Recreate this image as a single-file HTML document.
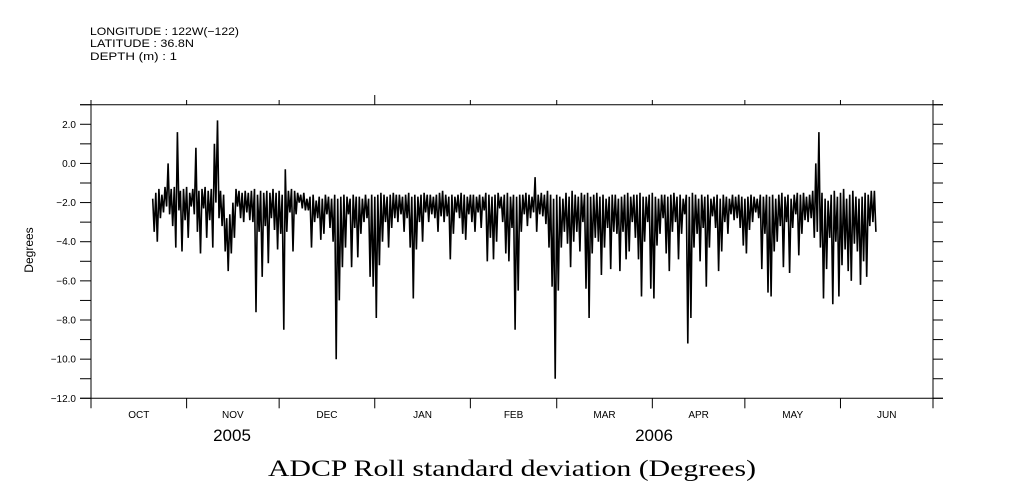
<!DOCTYPE html>
<html><head><meta charset="utf-8"><style>
html,body{margin:0;padding:0;background:#fff;}
svg{display:block;}
text{font-family:"Liberation Sans",sans-serif;fill:#000;}
</style></head><body>
<svg id="chart" width="1009" height="504" viewBox="0 0 1009 504" xmlns="http://www.w3.org/2000/svg">
<g font-size="11">
<text x="90" y="35" textLength="149" lengthAdjust="spacingAndGlyphs">LONGITUDE : 122W(−122)</text>
<text x="90" y="47" textLength="104" lengthAdjust="spacingAndGlyphs">LATITUDE : 36.8N</text>
<text x="90" y="60" textLength="87" lengthAdjust="spacingAndGlyphs">DEPTH (m) : 1</text>
</g>
<g id="axes"></g>
<path id="series" fill="none" stroke="#000" stroke-width="1.6"/>
<text x="33" y="250" font-size="12" text-anchor="middle" transform="rotate(-90 33 250)">Degrees</text>
<text x="232" y="441" font-size="17" text-anchor="middle">2005</text>
<text x="654" y="441" font-size="17" text-anchor="middle">2006</text>
<text x="268" y="476" font-size="23" textLength="488" lengthAdjust="spacingAndGlyphs" style="font-family:'Liberation Serif',serif">ADCP Roll standard deviation (Degrees)</text>
</svg>
<script>
const monthLabels = ["OCT","NOV","DEC","JAN","FEB","MAR","APR","MAY","JUN"];
const monthDays = [31,30,31,31,28,31,30,31,30];
const yTicks = [2,0,-2,-4,-6,-8,-10,-12];
const yTickLabels = ["2.0","0.0","-2.0","-4.0","-6.0","-8.0","-10.0","-12.0"];
const startDay = 20; // Oct 21 2005, days since Oct 1
const highs = [
-1.8,-1.5,-1.3,-1.6,-1.2,0.0,-1.3,-1.2,1.6,-1.4,
-1.3,-1.2,-1.5,-1.3,0.8,-1.4,-1.3,-1.2,-1.4,-1.3,
1.0,2.2,-1.4,-1.6,-2.8,-2.6,-2.0,-1.3,-1.4,-1.5,
-1.4,-1.5,-1.4,-1.3,-1.6,-1.4,-1.5,-1.4,-1.5,-1.3,
-1.5,-1.4,-1.6,-0.3,-1.4,-1.3,-1.4,-1.5,-1.6,-1.5,
-1.8,-1.7,-1.6,-1.9,-1.7,-1.8,-1.6,-1.7,-1.8,-1.6,
-1.8,-1.7,-1.6,-1.7,-1.8,-1.6,-1.7,-1.7,-1.8,-1.6,
-1.8,-1.6,-1.7,-1.6,-1.5,-1.6,-1.7,-1.6,-1.5,-1.6,
-1.6,-1.7,-1.6,-1.5,-1.7,-1.6,-1.7,-1.6,-1.5,-1.6,
-1.6,-1.7,-1.6,-1.5,-1.4,-1.6,-1.7,-1.6,-1.7,-1.6,
-1.5,-1.6,-1.7,-1.6,-1.6,-1.7,-1.6,-1.7,-1.5,-1.6,
-1.7,-1.6,-1.5,-1.7,-1.6,-1.5,-1.7,-1.6,-1.7,-1.6,
-1.6,-1.5,-1.6,-1.7,-0.7,-1.6,-1.5,-1.6,-1.4,-1.6,
-1.8,-1.6,-1.7,-1.8,-1.5,-1.7,-1.4,-1.6,-1.7,-1.5,
-1.6,-1.5,-1.7,-1.6,-1.5,-1.7,-1.6,-1.8,-1.7,-1.6,
-1.6,-1.8,-1.7,-1.6,-1.5,-1.7,-1.6,-1.6,-1.5,-1.7,
-1.7,-1.6,-1.5,-1.7,-1.8,-1.6,-1.6,-1.7,-1.6,-1.5,
-1.7,-1.6,-1.8,-1.6,-1.7,-1.5,-1.6,-1.8,-1.6,-1.7,
-1.6,-1.8,-1.7,-1.6,-1.8,-1.6,-1.7,-1.8,-1.6,-1.7,
-1.6,-1.7,-1.8,-1.7,-1.6,-1.7,-1.8,-1.6,-1.7,-1.6,
-1.7,-1.6,-1.8,-1.6,-1.5,-1.7,-1.6,-1.8,-1.6,-1.5,
-1.6,-1.5,-1.7,-1.6,-1.4,0.0,1.6,-1.5,-1.8,-1.9,
-1.6,-1.4,-1.7,-1.5,-1.3,-1.8,-1.6,-1.4,-1.7,-1.8,
-1.7,-1.5,-1.6,-1.4,-1.4];
const lows = [
-3.5,-4.0,-2.8,-2.5,-2.2,-2.6,-3.2,-4.3,-2.4,-4.5,
-2.9,-3.8,-2.2,-2.6,-3.5,-4.6,-2.3,-3.8,-2.9,-4.3,
-2.0,-2.8,-3.2,-4.5,-5.5,-4.6,-3.8,-2.2,-2.8,-3.0,
-2.5,-2.9,-3.0,-7.6,-3.5,-5.8,-3.2,-5.1,-2.8,-3.4,
-4.4,-3.6,-8.5,-3.5,-2.5,-4.5,-2.6,-2.0,-2.3,-2.4,
-2.4,-4.3,-3.0,-2.8,-3.9,-3.6,-2.6,-3.3,-4.0,-10.0,
-7.0,-5.3,-4.3,-2.6,-5.3,-3.3,-4.8,-3.6,-3.0,-2.8,
-5.8,-6.3,-7.9,-5.2,-4.0,-3.0,-4.3,-3.3,-2.8,-3.0,
-2.6,-3.5,-2.8,-4.3,-6.9,-4.4,-3.0,-4.0,-2.5,-3.0,
-2.6,-2.8,-3.5,-2.7,-3.0,-2.7,-4.9,-3.6,-2.5,-2.8,
-3.6,-3.9,-2.6,-3.0,-3.5,-2.5,-3.3,-2.4,-5.0,-3.8,
-4.9,-4.0,-2.3,-3.0,-4.6,-5.0,-3.3,-8.5,-6.5,-3.5,
-2.6,-3.2,-2.8,-2.5,-3.5,-2.6,-2.7,-3.1,-4.3,-6.3,
-11.0,-6.5,-4.3,-3.5,-4.1,-5.3,-4.0,-3.5,-4.5,-3.0,
-6.4,-7.9,-4.6,-3.8,-4.0,-5.7,-4.3,-3.3,-5.4,-3.5,
-3.6,-5.5,-3.5,-4.9,-4.5,-3.0,-3.8,-4.9,-6.8,-4.0,
-3.0,-6.4,-6.9,-4.2,-3.6,-2.8,-4.6,-5.5,-3.5,-3.0,
-4.9,-3.6,-2.6,-9.2,-7.9,-4.3,-3.6,-5.0,-3.3,-6.3,
-4.3,-2.7,-3.3,-5.5,-4.5,-3.0,-3.6,-2.6,-2.9,-2.8,
-3.3,-4.2,-4.6,-3.4,-3.0,-2.5,-2.8,-5.4,-3.6,-6.6,
-6.8,-4.5,-4.0,-3.2,-5.3,-3.0,-5.6,-3.3,-2.6,-4.7,
-3.6,-2.9,-3.0,-2.8,-3.8,-3.5,-4.3,-6.9,-5.4,-3.8,
-7.2,-4.0,-6.8,-5.2,-4.4,-5.5,-6.0,-4.1,-4.5,-6.2,
-5.0,-5.8,-3.2,-3.0,-3.5];

const X0 = 91, X1 = 933, Y0 = 104.7, Y1 = 398.3, YMAX = 3, YMIN = -12;
const totalDays = monthDays.reduce((a,b)=>a+b,0);
function xs(t){ return X0 + t*(X1-X0)/totalDays; }
function ys(v){ return Y0 + (YMAX - v)*(Y1-Y0)/(YMAX-YMIN); }

const NS = "http://www.w3.org/2000/svg";
const axes = document.getElementById('axes');
function line(x1,y1,x2,y2,name){
  const l = document.createElementNS(NS,'line');
  l.setAttribute('x1',x1);l.setAttribute('y1',y1);l.setAttribute('x2',x2);l.setAttribute('y2',y2);
  l.setAttribute('stroke','#000');l.setAttribute('stroke-width','1');
  
  
  axes.appendChild(l);
}
function txt(x,y,s,anchor,size,name){
  const t = document.createElementNS(NS,'text');
  t.setAttribute('x',x);t.setAttribute('y',y);t.setAttribute('text-anchor',anchor);t.setAttribute('font-size',size);
  t.textContent = s;
  
  
  axes.appendChild(t);
}
line(80,Y0,943,Y0,'top-axis-line');
line(80,Y1,943,Y1,'bottom-axis-line');
line(X0,Y0,X0,Y1,'left-axis-line');
line(X1,Y0,X1,Y1,'right-axis-line');
for(let v=YMIN; v<=YMAX; v++){
  const y = ys(v);
  line(80,y,X0,y,'y-tick-left');
  line(X1,y,943,y,'y-tick-right');
}
yTicks.forEach((v,i)=>{ txt(76, ys(v)+3.5, yTickLabels[i].replace('-','\u2212'), 'end', 10, 'y-tick-label'); });
let acc = 0;
for(let i=0;i<=monthDays.length;i++){
  const x = xs(acc);
  line(x,Y1,x,Y1+10,'x-tick-bottom');
  line(x,i===3?95:100,x,Y0,'x-tick-top');
  if(i<monthDays.length){
    txt(xs(acc+monthDays[i]/2), 418, monthLabels[i], 'middle', 10, 'month-label');
    acc += monthDays[i];
  }
}
let d = '';
for(let i=0;i<highs.length;i++){
  const t = startDay + i;
  d += (i===0?'M':'L') + xs(t).toFixed(1) + ' ' + ys(highs[i]).toFixed(1);
  d += 'L' + xs(t+0.5).toFixed(1) + ' ' + ys(lows[i]).toFixed(1);
}
document.getElementById('series').setAttribute('d', d);
</script>
</body></html>
